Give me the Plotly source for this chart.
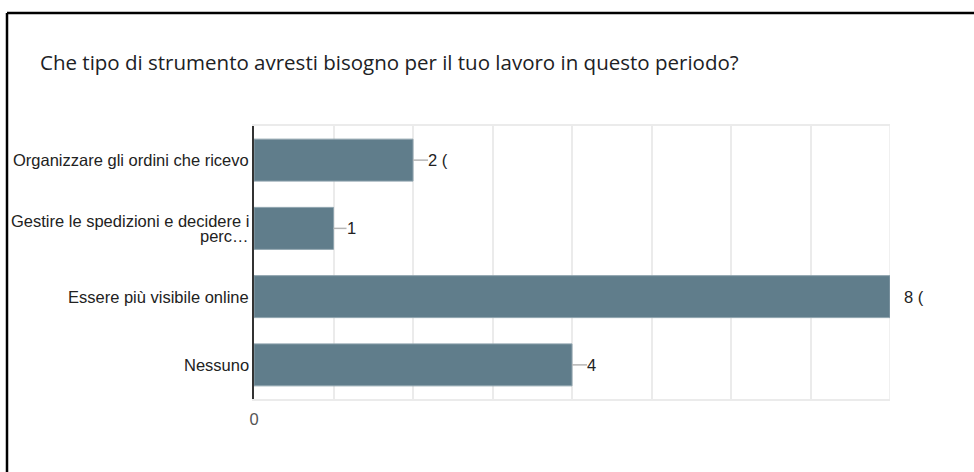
import plotly.graph_objects as go

# Survey answers (Google Forms style summary)
categories = [
    "Organizzare gli ordini che ricevo",
    "Gestire le spedizioni e decidere i<br>perc…",
    "Essere più visibile online",
    "Nessuno",
]
counts = [2, 1, 8, 4]
label_suffixes = [" (", "", " (", ""]
title_text = "Che tipo di strumento avresti bisogno per il tuo lavoro in questo periodo?"
x_ticks = [0, 1, 2, 3, 4, 5, 6, 7, 8]
x_ticktext = ["0", "", "", "", "", "", "", "", ""]

W, H = 974, 472
L, R, T, B = 254, 84, 126, 73
PW, PH = W - L - R, H - T - B

BAR = "#607d8b"
GRID = "#ebebeb"
TEXT = "#222222"
FONT = "Liberation Sans, Arial"
FS = 16.5


def px_x(px):
    return (px - L) / PW


def px_y(py):
    return (H - B - py) / PH


fig = go.Figure(
    go.Bar(
        x=counts,
        y=categories,
        orientation="h",
        marker=dict(color=BAR, line=dict(color="#8ea3ad", width=1)),
        hoverinfo="skip",
    )
)

shapes = []
annotations = []
leader_len = [15, 13, 3, 15]
for cat, v, suf, ll in zip(categories, counts, label_suffixes, leader_len):
    # leader line from the bar end to its value label
    shapes.append(dict(
        type="line", xref="x", yref="y", xsizemode="pixel", xanchor=v,
        x0=0, x1=ll, y0=cat, y1=cat,
        line=dict(color="#b5b5b5", width=1.5), layer="above",
    ))
    annotations.append(dict(
        x=v, y=cat, xref="x", yref="y", text=f"{v}{suf}",
        showarrow=False, xanchor="left", yanchor="middle",
        xshift=(ll - 2) if ll > 5 else 12,
        font=dict(family=FONT, size=FS, color=TEXT),
    ))
    # category label, lines set tight like the form summary
    lines = cat.split("<br>")
    n = len(lines)
    for i, line in enumerate(lines):
        annotations.append(dict(
            x=0, y=cat, xref="paper", yref="y", text=line,
            showarrow=False, xanchor="right", yanchor="middle",
            xshift=-3, yshift=(n - 1) / 2 * 15 - i * 15,
            font=dict(family=FONT, size=FS, color=TEXT),
        ))

# right edge of the plot frame
shapes.append(dict(type="line", xref="x", yref="paper", x0=8, x1=8, y0=0, y1=1,
                   line=dict(color=GRID, width=1.5), layer="below"))
# outer black border (top and left)
shapes.append(dict(type="line", xref="paper", yref="paper",
                   x0=px_x(7), x1=px_x(980), y0=px_y(13), y1=px_y(13),
                   line=dict(color="#000000", width=2.5)))
shapes.append(dict(type="line", xref="paper", yref="paper",
                   x0=px_x(7), x1=px_x(7), y0=px_y(13), y1=px_y(480),
                   line=dict(color="#000000", width=2.5)))

annotations.append(dict(
    text=title_text, xref="paper", yref="paper",
    x=px_x(38), y=px_y(62), xanchor="left", yanchor="middle", showarrow=False,
    font=dict(family="Open Sans, Roboto, Arial", size=20.5, color="#202124"),
))

fig.update_layout(
    width=W, height=H, autosize=False,
    margin=dict(l=L, r=R, t=T, b=B, pad=0),
    paper_bgcolor="white", plot_bgcolor="white",
    showlegend=False,
    bargap=0.385,
    shapes=shapes,
    annotations=annotations,
    xaxis=dict(
        range=[0, 8], tickvals=x_ticks, ticktext=x_ticktext,
        showgrid=True, gridcolor=GRID, gridwidth=1.5,
        zeroline=False, showline=True, linecolor=GRID, linewidth=1.5, mirror=True,
        ticks="", ticklabelstandoff=4,
        tickfont=dict(family=FONT, size=FS, color="#555555"),
        fixedrange=True,
    ),
    yaxis=dict(
        categoryorder="array", categoryarray=categories, autorange="reversed",
        showgrid=False, zeroline=False, showline=True, linecolor="#333333", linewidth=1.5,
        ticks="", showticklabels=False,
        fixedrange=True,
    ),
)

fig.write_html("out.html", config={"displayModeBar": False})
